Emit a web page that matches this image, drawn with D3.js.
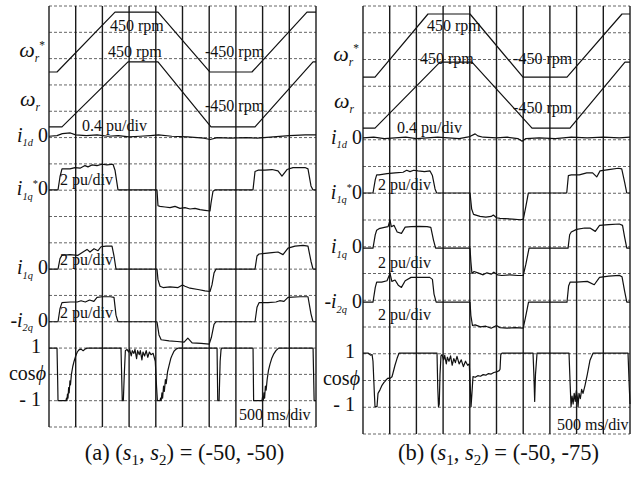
<!DOCTYPE html>
<html>
<head>
<meta charset="utf-8">
<script src="https://cdn.jsdelivr.net/npm/d3@7"></script>
<style>
body { margin: 0; background: #fff; }
text { font-family: "Liberation Serif", "Times New Roman", serif; fill: #111; }
</style>
</head>
<body>
<div id="chart"></div>
<script>
// time in ms (500 ms/div), speed in rpm, currents in pu, cos phi unitless

// ---- (a) (s1, s2) = (-50, -50)
const wRefA = [[0,-450],[150,-450],[1236,450],[2041,450],[3015,-450],[3801,-450],[4831,450],[5000,450]]
const wA = [[0,-450],[243,-450],[1479,450],[2041,450],[3034,-450],[3858,-450],[4944,450],[5000,450]]
const i1dA = [[0,0],[150,0.01],[250,0.04],[400,0.05],[500,0.02],[700,0.01],[900,0.02],[1100,0],[1300,0.01],[1500,-0.01],[1700,0],[1900,0.01],[2050,0.02],[2300,0],[2600,-0.01],[2900,-0.03],[3020,-0.05],[3150,-0.02],[3400,-0.03],[3700,-0.02],[3900,-0.03],[4200,-0.01],[4500,0.01],[4800,0.02],[5000,0.02]]
const i1qRefA = [[0,0],[169,0],[206,1.0],[243,1.6],[393,1.6],[487,1.7],[581,1.65],[674,1.85],[730,1.75],[805,1.9],[899,1.85],[993,1.95],[1086,1.9],[1199,1.95],[1236,1.5],[1292,0],[2022,0],[2041,-1.2],[2079,-1.25],[2172,-1.3],[2266,-1.35],[2360,-1.25],[2453,-1.4],[2547,-1.35],[2640,-1.45],[2734,-1.4],[2828,-1.5],[2921,-1.55],[3015,-1.6],[3034,-1.0],[3071,-0.1],[3109,0],[3820,0],[3858,1.4],[3914,1.5],[4045,1.5],[4176,1.55],[4288,1.45],[4363,1.05],[4457,1.55],[4569,1.7],[4700,1.7],[4794,1.7],[4850,1.6],[4906,0.3],[4944,0],[5000,0]]
const i1qA = [[0,0],[169,0],[206,0.8],[243,1.05],[393,1.1],[543,1.05],[637,1.3],[712,1.5],[768,1.3],[843,1.55],[918,1.4],[974,1.7],[1067,1.75],[1180,1.75],[1217,1.0],[1255,0],[2022,0],[2041,-0.8],[2079,-1.3],[2135,-1.4],[2266,-1.35],[2416,-1.4],[2500,-1.2],[2547,-1.3],[2640,-1.45],[2790,-1.55],[2921,-1.65],[3015,-1.7],[3052,-1.2],[3090,-0.3],[3127,0],[3858,0],[3895,1.0],[3933,1.15],[4045,1.2],[4176,1.25],[4288,1.3],[4382,1.1],[4476,1.6],[4607,1.75],[4757,1.8],[4850,1.75],[4906,0.6],[4944,0],[5000,0]]
const i2qA = [[0,0],[169,0],[206,1.0],[243,1.45],[400,1.5],[530,1.5],[600,1.6],[680,1.5],[760,1.65],[840,1.55],[900,1.85],[1000,1.9],[1150,1.9],[1217,1.85],[1255,0.5],[1292,0],[2022,0],[2060,-1.0],[2100,-1.37],[2250,-1.45],[2400,-1.5],[2530,-1.55],[2600,-1.25],[2680,-1.6],[2850,-1.65],[3000,-1.7],[3040,-1.2],[3090,-0.2],[3127,0],[3858,0],[3895,1.1],[3933,1.45],[4100,1.45],[4250,1.5],[4320,1.6],[4400,1.55],[4476,1.85],[4700,1.9],[4850,1.9],[4906,0.6],[4944,0],[5000,0]]
const cosA = [[0,1],[150,1],[162,-0.2],[169,-1],[318,-1],[328,-0.9],[336,-1],[346,-0.75],[356,-0.9],[368,-0.5],[378,-0.7],[392,-0.25],[402,-0.4],[420,0],[445,0.3],[470,0.5],[500,0.7],[530,0.85],[560,0.93],[600,0.96],[640,0.9],[680,0.97],[720,1],[1348,1],[1360,0],[1372,-1],[1392,-1],[1410,0],[1430,0.9],[1460,0.95],[1490,0.85],[1510,0.95],[1540,0.7],[1560,0.9],[1590,0.8],[1610,0.95],[1640,0.6],[1660,0.9],[1690,0.75],[1710,0.9],[1740,0.55],[1760,0.85],[1790,0.7],[1820,0.9],[1850,0.65],[1880,0.85],[1910,0.75],[1950,0.8],[1990,0.5],[2015,-0.5],[2030,-1],[2080,-1],[2090,-0.9],[2100,-1],[2115,-0.7],[2128,-0.9],[2145,-0.45],[2160,-0.65],[2180,-0.2],[2195,-0.35],[2220,0.1],[2250,0.35],[2280,0.6],[2310,0.75],[2340,0.88],[2380,0.96],[2420,1],[3147,1],[3160,-1],[3185,-1],[3205,0.5],[3222,0.95],[3240,1],[3821,1],[3832,-1],[3989,-1],[4000,-0.85],[4012,-1],[4025,-0.7],[4038,-0.9],[4052,-0.45],[4066,-0.6],[4085,-0.2],[4110,0.15],[4140,0.4],[4170,0.6],[4210,0.78],[4250,0.9],[4300,1],[4945,1],[4965,-1],[5000,-1]]

// ---- (b) (s1, s2) = (-50, -75)
const wRefB = [[0,-450],[225,-450],[1217,450],[2004,450],[2996,-450],[3820,-450],[4850,450],[5000,450]]
const wB = [[0,-450],[225,-450],[1442,450],[2041,450],[3165,-450],[3876,-450],[4906,450],[5000,450]]
const i1dB = [[0,0],[200,0.01],[400,-0.01],[600,0],[800,0.01],[1000,-0.01],[1200,0],[1400,0.01],[1600,0],[1800,-0.01],[2000,0.02],[2100,0.06],[2150,0.03],[2250,0.01],[2500,0],[2700,0.01],[2900,-0.01],[2980,-0.05],[3050,-0.01],[3300,0],[3600,-0.01],[3900,0.01],[4200,0],[4500,0.01],[4800,0],[5000,0.01]]
const i1qRefB = [[0,0],[187,0],[230,1.0],[256,1.35],[300,1.35],[450,1.45],[600,1.5],[750,1.55],[818,1.7],[880,1.6],[950,1.7],[1030,1.65],[1150,1.6],[1255,1.65],[1300,1.3],[1349,0.3],[1380,0],[2004,0],[2035,-1.2],[2070,-1.6],[2191,-1.75],[2300,-1.8],[2400,-1.75],[2441,-1.65],[2500,-1.85],[2566,-1.9],[2800,-1.95],[2950,-2.0],[3003,-1.95],[3050,-1.0],[3097,0],[3815,0],[3846,1.3],[3900,1.35],[4050,1.35],[4190,1.5],[4300,1.5],[4377,1.2],[4439,1.65],[4600,1.75],[4780,1.85],[4845,1.8],[4900,0.8],[4939,0],[5000,0]]
const i1qB = [[0,0],[187,0],[230,1.0],[256,1.34],[300,1.45],[400,1.55],[470,1.6],[506,2.1],[530,1.6],[580,1.7],[640,1.2],[720,1.1],[790,1.57],[900,1.6],[1050,1.62],[1200,1.6],[1270,1.55],[1320,0.6],[1360,0],[2004,0],[2020,-1.0],[2040,-1.9],[2080,-1.75],[2150,-1.85],[2250,-2.0],[2320,-1.85],[2400,-1.95],[2450,-1.8],[2520,-2.0],[2600,-2.05],[2750,-2.0],[2900,-2.05],[3000,-2.05],[3050,-1.2],[3110,0],[3840,0],[3870,1.0],[3900,1.2],[4000,1.4],[4150,1.5],[4250,1.5],[4350,1.25],[4430,1.7],[4600,1.75],[4800,1.8],[4860,1.7],[4900,0.8],[4940,0],[5000,0]]
const i2qB = [[0,0],[187,0],[230,1.1],[256,1.5],[350,1.5],[450,1.6],[506,2.15],[540,1.55],[600,1.65],[660,1.27],[720,1.1],[790,1.6],[900,1.85],[1100,1.85],[1250,1.85],[1300,1.7],[1330,0.6],[1370,0],[2004,0],[2020,-1.0],[2050,-1.75],[2100,-1.7],[2200,-1.85],[2300,-1.8],[2400,-1.95],[2500,-1.75],[2560,-1.9],[2700,-1.95],[2850,-1.9],[3000,-1.95],[3040,-1.2],[3100,0],[3820,0],[3850,1.2],[3880,1.5],[4000,1.5],[4200,1.55],[4330,1.3],[4430,1.85],[4600,1.95],[4800,2.0],[4850,1.9],[4900,0.8],[4940,0],[5000,0]]
const cosB = [[0,1],[100,1],[140,0.93],[170,0.95],[187,0.7],[215,-0.6],[225,-1],[262,-1],[281,-0.5],[318,-0.37],[356,-0.2],[390,-0.1],[412,-0.05],[440,0.02],[468,0.07],[500,0.05],[543,0.12],[562,0.26],[599,0.55],[637,0.8],[674,1],[1386,1],[1400,-0.3],[1414,-1],[1428,-0.9],[1442,0.2],[1460,0.9],[1480,0.95],[1510,0.75],[1530,0.92],[1560,0.6],[1580,0.85],[1610,0.7],[1640,0.9],[1670,0.55],[1700,0.8],[1730,0.65],[1760,0.88],[1800,0.6],[1840,0.75],[1880,0.5],[1920,0.7],[1960,0.55],[1990,0.6],[2010,-0.3],[2023,-1],[2040,-0.5],[2060,0.13],[2100,0.1],[2150,0.16],[2200,0.14],[2250,0.2],[2300,0.18],[2350,0.24],[2400,0.22],[2450,0.28],[2500,0.3],[2550,0.35],[2566,0.4],[2580,0.95],[2603,1],[3184,1],[3200,0.2],[3215,-0.8],[3230,0.2],[3259,1],[3858,1],[3880,-0.2],[3896,-1],[3915,-0.6],[3935,-0.9],[3955,-0.5],[3975,-0.8],[3995,-0.4],[4015,-0.65],[4027,-1],[4045,-0.5],[4070,-0.7],[4095,-0.35],[4120,-0.5],[4158,-0.2],[4200,0.2],[4251,0.74],[4307,1],[4963,1],[4985,-0.2],[5000,-0.9]]

const timeTicks = d3.range(0, 5001, 500)
const captions = ["(a)", "(b)"]
const slipA = ["-50", "-50"]
const slipB = ["-50", "-75"]

var svg = d3.select("#chart").append("svg")
    .attr("width", 640)
    .attr("height", 480)

// parts: [string, kind]  kind: "" roman, "i" italic, "sub" / "isub" subscript, "sup" superscript
function richText(g, x, y, parts, size, anchor) {
    var t = g.append("text")
        .attr("x", x)
        .attr("y", y)
        .attr("text-anchor", anchor || "start")
        .style("font-size", size + "px")
    var shift = 0
    parts.forEach(function(p) {
        var k = p[1]
        var target = (k == "sub" || k == "isub") ? size * 0.22 : (k == "sup" ? -size * 0.4 : 0)
        var ts = t.append("tspan").text(p[0]).attr("dy", target - shift)
        shift = target
        if (k == "i" || k == "isub") ts.style("font-style", "italic")
        if (k == "sub" || k == "isub" || k == "sup") ts.style("font-size", (size * 0.52) + "px")
    })
    return t
}

function drawPanel(p) {
    var x = d3.scaleLinear().domain([0, 5000]).range([p.left, p.right])
    var y = d3.scaleLinear().domain([0, 16]).range([p.top, p.bottom])
    var g = svg.append("g")

    // dotted horizontal divisions
    g.selectAll(".hline")
    .data(d3.range(17))
    .enter().append("line")
    .attr("x1", p.left).attr("x2", p.right)
    .attr("y1", function(d) { return y(d) })
    .attr("y2", function(d) { return y(d) })
    .attr("stroke", "#666")
    .attr("stroke-width", 1)
    .attr("stroke-dasharray", "3,2")

    // solid vertical divisions
    g.selectAll(".vline")
    .data(timeTicks)
    .enter().append("line")
    .attr("x1", function(d) { return x(d) })
    .attr("x2", function(d) { return x(d) })
    .attr("y1", p.top).attr("y2", p.bottom)
    .attr("stroke", "#1a1a1a")
    .attr("stroke-width", 1.4)

    p.traces.forEach(function(tr) {
        var line = d3.line()
        .x(function(d) { return x(d[0]) })
        .y(function(d) { return y(tr.zero - d[1] / tr.perDiv) })
        g.append("path")
        .datum(tr.data)
        .attr("d", line)
        .attr("fill", "none")
        .attr("stroke", tr.color || "#111")
        .attr("stroke-width", tr.width || 1.2)
        .attr("stroke-linejoin", "round")
    })

    p.notes.forEach(function(n) {
        g.append("text")
        .attr("x", x(n.t))
        .attr("y", y(n.div))
        .style("font-size", "16px")
        .text(n.text)
    })

    // channel labels on the left
    var lx = p.left - 1
    p.labels.forEach(function(l) {
        richText(g, lx - (l.dx || 0), y(l.div), l.parts, l.size || 20, "end")
    })

    // caption
    var cx = (p.left + p.right) / 2 + 2
    var cap = g.append("text")
        .attr("x", cx)
        .attr("y", 460)
        .attr("text-anchor", "middle")
        .style("font-size", "22.5px")
    cap.append("tspan").text(p.caption + " (")
    cap.append("tspan").text("s").style("font-style", "italic")
    cap.append("tspan").text("1").attr("dy", 5).style("font-size", "15px")
    cap.append("tspan").text(", ").attr("dy", -5)
    cap.append("tspan").text("s").style("font-style", "italic")
    cap.append("tspan").text("2").attr("dy", 5).style("font-size", "15px")
    cap.append("tspan").text(") = (" + p.slip[0] + ", " + p.slip[1] + ")").attr("dy", -5)
}

function labelSet(d) {
    return [
        {div: d[0], parts: [["ω", "i"], ["r", "isub"], ["*", "sup"]], size: 22, dx: 3},
        {div: d[1], parts: [["ω", "i"], ["r", "isub"]], size: 22, dx: 8},
        {div: d[2], parts: [["i", "i"], ["1d", "isub"], [" 0", ""]]},
        {div: d[3], parts: [["i", "i"], ["1q", "isub"], ["*", "sup"], ["0", ""]]},
        {div: d[4], parts: [["i", "i"], ["1q", "isub"], [" 0", ""]]},
        {div: d[5], parts: [["-", ""], ["i", "i"], ["2q", "isub"], [" 0", ""]]},
        {div: d[6], parts: [["1", ""]], dx: 7},
        {div: d[7], parts: [["cos", ""], ["ϕ", "i"]], dx: 2},
        {div: d[8], parts: [["- 1", ""]], dx: 7}
    ]
}

drawPanel({
    left: 49, right: 316, top: 6, bottom: 427,
    caption: captions[0], slip: slipA,
    traces: [
        {data: wRefA, zero: 1.37, perDiv: 395},
        {data: wA, zero: 3.36, perDiv: 364},
        {data: i1dA, zero: 4.95, perDiv: 0.4},
        {data: i1qRefA, zero: 6.99, perDiv: 2},
        {data: i1qA, zero: 10.0, perDiv: 2},
        {data: i2qA, zero: 12.0, perDiv: 2},
        {data: cosA, zero: 14.0, perDiv: 1}
    ],
    notes: [
        {text: "450 rpm", t: 1142, div: 0.95},
        {text: "450 rpm", t: 1105, div: 1.94},
        {text: "-450 rpm", t: 2922, div: 1.94},
        {text: "-450 rpm", t: 2922, div: 4.0},
        {text: "0.4 pu/div", t: 618, div: 4.75},
        {text: "2 pu/div", t: 206, div: 6.8},
        {text: "2 pu/div", t: 206, div: 9.84},
        {text: "2 pu/div", t: 206, div: 11.86},
        {text: "500 ms/div", t: 3559, div: 15.72}
    ],
    labels: labelSet([1.95, 3.8, 5.15, 7.2, 10.2, 12.2, 13.2, 14.2, 15.2])
})

drawPanel({
    left: 363, right: 630, top: 6, bottom: 434,
    caption: captions[1], slip: slipB,
    traces: [
        {data: wRefB, zero: 1.48, perDiv: 381},
        {data: wB, zero: 3.33, perDiv: 365},
        {data: i1dB, zero: 4.93, perDiv: 0.4},
        {data: i1qRefB, zero: 6.99, perDiv: 2},
        {data: i1qB, zero: 9.05, perDiv: 2},
        {data: i2qB, zero: 11.07, perDiv: 2},
        {data: cosB, zero: 13.98, perDiv: 1}
    ],
    notes: [
        {text: "450 rpm", t: 1199, div: 0.93},
        {text: "450 rpm", t: 1068, div: 2.17},
        {text: "-450 rpm", t: 2810, div: 2.17},
        {text: "-450 rpm", t: 2810, div: 4.0},
        {text: "0.4 pu/div", t: 637, div: 4.75},
        {text: "2 pu/div", t: 281, div: 6.88},
        {text: "2 pu/div", t: 281, div: 9.79},
        {text: "2 pu/div", t: 281, div: 11.74},
        {text: "500 ms/div", t: 3634, div: 15.85}
    ],
    labels: labelSet([2.05, 3.83, 5.15, 7.2, 9.25, 11.3, 13.15, 14.15, 15.15])
})
</script>
</body>
</html>
